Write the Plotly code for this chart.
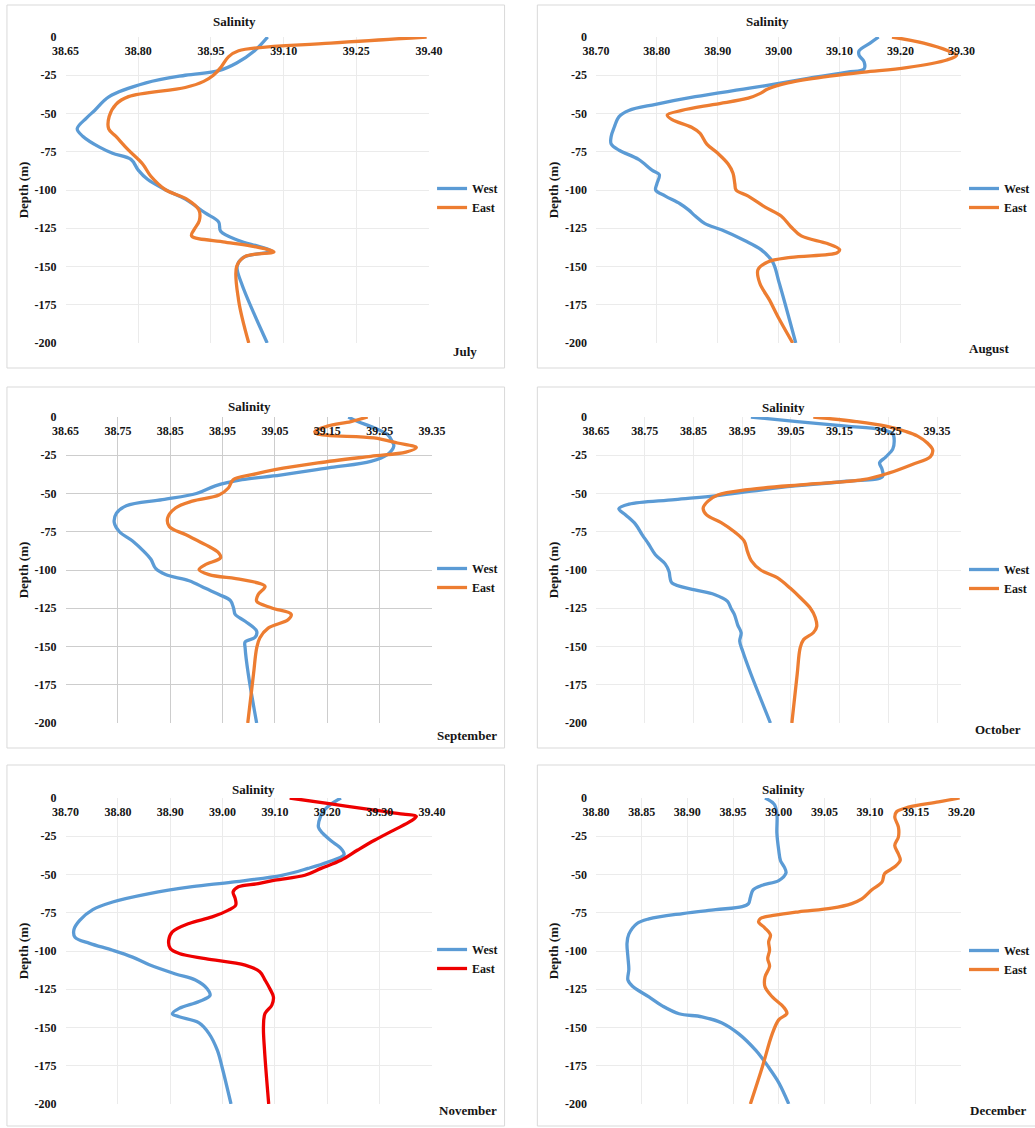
import plotly.graph_objects as go

# ---------------- salinity profiles: depth (m) vs salinity ----------------
jul_west_depth = [0, -9, -17, -22, -25, -30, -39, -48, -53, -60, -65, -72, -76, -80, -87, -93, -100,
                  -106, -115, -121, -127, -133, -137, -140, -144, -150, -161, -200]
jul_west_sal = [39.067, 39.040, 39.003, 38.966, 38.897, 38.816, 38.740, 38.710, 38.693, 38.674, 38.686,
                38.720, 38.747, 38.785, 38.800, 38.819, 38.857, 38.897, 38.938, 38.966, 38.970, 39.007,
                39.050, 39.075, 39.017, 39.004, 39.013, 39.066]
jul_east_depth = [0, -4, -9, -13, -20, -25, -29, -33, -39, -44, -52, -60, -65, -74, -83, -91, -100, -106,
                  -113, -120, -126, -130, -134, -137, -140.5, -143.5, -150, -172, -200]
jul_east_sal = [39.395, 39.197, 39.007, 38.986, 38.970, 38.955, 38.935, 38.897, 38.780, 38.754, 38.740,
                38.739, 38.754, 38.780, 38.809, 38.826, 38.857, 38.900, 38.925, 38.926, 38.915, 38.910,
                38.979, 39.040, 39.080, 39.020, 39.003, 39.007, 39.028]

aug_west_depth = [0, -4, -9, -12, -16, -21, -23, -27, -33, -39, -44, -48, -52, -59, -65, -70, -74, -80,
                  -87, -90, -96, -100, -104, -109, -113, -117, -122, -126, -133, -139, -147, -161, -200]
aug_west_sal = [39.164, 39.150, 39.132, 39.132, 39.140, 39.140, 39.113, 39.048, 38.960, 38.863, 38.798,
                38.754, 38.738, 38.730, 38.725, 38.725, 38.738, 38.770, 38.792, 38.804, 38.800, 38.798,
                38.814, 38.838, 38.852, 38.863, 38.879, 38.906, 38.944, 38.971, 38.990, 39.001, 39.028]
aug_east_depth = [0, -4, -9, -12, -15, -20, -23, -26, -30, -34, -37, -40, -44, -48, -51, -54, -59, -63,
                  -70, -76, -83, -89, -96, -100, -104, -111, -117, -124, -130, -135, -139, -141, -144,
                  -147, -152, -161, -172, -183, -200]
aug_east_sal = [39.186, 39.238, 39.278, 39.292, 39.276, 39.210, 39.140, 39.075, 39.015, 38.982, 38.969,
                38.950, 38.895, 38.841, 38.817, 38.825, 38.857, 38.871, 38.882, 38.900, 38.917, 38.925,
                38.928, 38.930, 38.950, 38.977, 39.004, 39.020, 39.037, 39.080, 39.100, 39.096, 39.020,
                38.982, 38.966, 38.969, 38.985, 38.999, 39.023]

sep_west_depth = [0, -3, -7, -11.5, -16, -19, -24.5, -29, -33, -38, -41, -45, -50, -54, -58, -63, -69,
                  -75, -81, -88, -93, -99, -103, -107, -112, -116, -120, -125, -129, -133.5, -140, -144,
                  -147, -151, -168, -200]
sep_west_sal = [39.190, 39.208, 39.239, 39.265, 39.274, 39.277, 39.265, 39.233, 39.157, 39.060, 38.987,
                38.936, 38.900, 38.835, 38.766, 38.747, 38.743, 38.753, 38.778, 38.800, 38.813, 38.822,
                38.841, 38.886, 38.917, 38.943, 38.965, 38.971, 38.974, 38.993, 39.015, 39.012, 38.993,
                38.993, 38.999, 39.015]
sep_east_depth = [0, -3, -6, -9.5, -11, -13.7, -17, -20, -23, -25.7, -30, -34.4, -37.7, -41, -46.4, -51,
                  -55, -59.5, -66, -71.5, -77, -83.4, -89, -92, -96.5, -99.7, -103, -106.3, -110.7, -116,
                  -120.5, -124.8, -129, -132.5, -138, -144.4, -151, -168, -200]
sep_east_sal = [39.227, 39.195, 39.150, 39.126, 39.130, 39.239, 39.284, 39.320, 39.300, 39.233, 39.132,
                39.050, 39.006, 38.970, 38.961, 38.943, 38.892, 38.860, 38.845, 38.848, 38.880, 38.917,
                38.943, 38.946, 38.917, 38.905, 38.924, 38.987, 39.031, 39.018, 39.015, 39.044, 39.081,
                39.075, 39.037, 39.021, 39.015, 39.009, 38.998]

oct_west_depth = [0, -3, -6, -8, -11, -16, -21, -26, -30, -34, -39, -42, -46, -51, -54, -57, -60, -64,
                  -70, -77, -83, -90, -96, -101, -105, -108.5, -113, -116, -120.5, -125, -129, -136,
                  -141, -146.5, -153, -168, -200]
oct_west_sal = [38.968, 39.063, 39.164, 39.232, 39.259, 39.262, 39.259, 39.245, 39.232, 39.237, 39.238,
                39.164, 39.030, 38.907, 38.812, 38.718, 38.697, 38.711, 38.731, 38.745, 38.758, 38.772,
                38.792, 38.800, 38.802, 38.806, 38.853, 38.893, 38.920, 38.927, 38.934, 38.941, 38.948,
                38.945, 38.951, 38.968, 39.008]
oct_east_depth = [0, -3, -6, -9.5, -12.5, -17, -21.5, -26, -31, -36.5, -41, -44, -47.5, -51, -55, -59.5,
                  -64, -69, -75, -81, -88, -94, -100, -105, -112, -118, -125, -131, -137, -141, -145.5,
                  -151, -168, -200]
oct_east_sal = [39.096, 39.184, 39.245, 39.286, 39.310, 39.330, 39.341, 39.336, 39.299, 39.252, 39.198,
                39.083, 38.961, 38.900, 38.880, 38.870, 38.877, 38.907, 38.934, 38.954, 38.961, 38.969,
                38.988, 39.022, 39.049, 39.069, 39.090, 39.100, 39.103, 39.096, 39.076, 39.069, 39.063,
                39.052]

nov_west_depth = [0, -4, -8, -12, -19, -23, -28, -33, -37, -42, -46, -50.5, -55, -58, -62.5, -68, -73,
                  -80, -86, -91, -95, -99.5, -104, -109, -115, -119, -124.5, -129, -133, -137.5, -141,
                  -143, -147, -154, -165, -176, -200]
nov_west_sal = [39.226, 39.207, 39.194, 39.187, 39.183, 39.191, 39.207, 39.226, 39.232, 39.200, 39.163,
                39.113, 39.018, 38.942, 38.860, 38.790, 38.752, 38.727, 38.716, 38.718, 38.746, 38.790,
                38.828, 38.860, 38.910, 38.948, 38.970, 38.976, 38.955, 38.917, 38.904, 38.917, 38.955,
                38.974, 38.990, 38.999, 39.016]
nov_east_depth = [0, -4, -8, -10.5, -12, -15, -21, -27.6, -34, -40.7, -46, -50.5, -53.7, -56, -58, -61.4,
                  -65.7, -70, -73.3, -77.7, -82, -87.5, -93, -98.4, -101.6, -105, -109.2, -113.5, -119,
                  -124.5, -130, -135.4, -140.8, -149.5, -164.7, -200]
nov_east_sal = [39.128, 39.210, 39.290, 39.345, 39.370, 39.360, 39.327, 39.290, 39.258, 39.226, 39.188,
                39.157, 39.100, 39.068, 39.030, 39.020, 39.024, 39.025, 39.011, 38.980, 38.936, 38.904,
                38.897, 38.900, 38.917, 38.967, 39.043, 39.071, 39.081, 39.090, 39.097, 39.094, 39.081,
                39.078, 39.080, 39.088]

dec_west_depth = [0, -4, -10, -23, -34, -41, -45, -49, -54, -57, -60, -65, -69, -71, -73, -75.5, -79, -82,
                  -89, -95, -104, -112, -119, -123, -130, -136, -141, -143, -147, -154, -165, -176, -186,
                  -200]
dec_west_sal = [38.985, 38.995, 38.998, 38.998, 39.000, 39.002, 39.006, 39.008, 39.000, 38.982, 38.972,
                38.969, 38.967, 38.960, 38.931, 38.895, 38.858, 38.845, 38.836, 38.834, 38.835, 38.836,
                38.835, 38.840, 38.858, 38.873, 38.891, 38.916, 38.938, 38.956, 38.975, 38.989, 39.000,
                39.011]
dec_east_depth = [0, -2.6, -6, -9, -12.4, -19, -25.5, -31, -36.6, -40.7, -45, -49.4, -55, -60, -66, -69,
                  -72, -74.4, -76.6, -78.8, -81, -85, -89.6, -94, -99.5, -105, -110, -117, -123.4, -130,
                  -136.4, -140.8, -145, -154, -176, -200]
dec_east_sal = [39.198, 39.175, 39.142, 39.129, 39.127, 39.131, 39.131, 39.127, 39.131, 39.133, 39.127,
                39.116, 39.113, 39.102, 39.091, 39.080, 39.058, 39.022, 38.996, 38.980, 38.978, 38.985,
                38.991, 38.989, 38.990, 38.988, 38.990, 38.985, 38.985, 38.993, 39.005, 39.009, 39.000,
                38.993, 38.982, 38.969]

# ---------------- axis ticks ----------------
depth_ticks = [0, -25, -50, -75, -100, -125, -150, -175, -200]
depth_tick_labels = ["0", "-25", "-50", "-75", "-100", "-125", "-150", "-175", "-200"]
jul_sal_ticks = [38.65, 38.80, 38.95, 39.10, 39.25, 39.40]
aug_sal_ticks = [38.70, 38.80, 38.90, 39.00, 39.10, 39.20, 39.30]
sep_sal_ticks = [38.65, 38.75, 38.85, 38.95, 39.05, 39.15, 39.25, 39.35]
oct_sal_ticks = [38.65, 38.75, 38.85, 38.95, 39.05, 39.15, 39.25, 39.35]
nov_sal_ticks = [38.70, 38.80, 38.90, 39.00, 39.10, 39.20, 39.30, 39.40]
dec_sal_ticks = [38.80, 38.85, 38.90, 38.95, 39.00, 39.05, 39.10, 39.15, 39.20]

months = ["July", "August", "September", "October", "November", "December"]
station_names = ["West", "East"]

# ---------------- styling / page geometry ----------------
W, H = 1035, 1128
BLUE = "#5b9bd5"
ORANGE = "#ed7d31"
RED = "#ee0000"
TEXT = "#151515"
SERIF = "Liberation Serif"
FAINT_GRID = "#ebebeb"
DARK_GRID = "#cdcdcd"


def px_x(v):
    return v / W


def px_y(v):
    return 1 - v / H


panels = [
    dict(west=(jul_west_depth, jul_west_sal), east=(jul_east_depth, jul_east_sal), ticks=jul_sal_ticks,
         rng=[38.65, 39.40], plot=(66, 37, 432, 343), frame=(7, 5, 508, 368), title=(236, 22),
         month=(468, 351), legend=(435, 174), grid=FAINT_GRID, east_color=ORANGE),
    dict(west=(aug_west_depth, aug_west_sal), east=(aug_east_depth, aug_east_sal), ticks=aug_sal_ticks,
         rng=[38.70, 39.30], plot=(600, 37, 968, 343), frame=(541, 5, 1060, 368), title=(773, 22),
         month=(996, 348), legend=(971, 174), grid=FAINT_GRID, east_color=ORANGE),
    dict(west=(sep_west_depth, sep_west_sal), east=(sep_east_depth, sep_east_sal), ticks=sep_sal_ticks,
         rng=[38.65, 39.35], plot=(66, 417, 435, 723), frame=(7, 387, 508, 748), title=(251, 406),
         month=(470, 735), legend=(435, 554), grid=DARK_GRID, east_color=ORANGE),
    dict(west=(oct_west_depth, oct_west_sal), east=(oct_east_depth, oct_east_sal), ticks=oct_sal_ticks,
         rng=[38.65, 39.40], plot=(600, 417, 968, 723), frame=(541, 387, 1060, 748), title=(789, 408),
         month=(1005, 729), legend=(971, 555), grid=FAINT_GRID, east_color=ORANGE),
    dict(west=(nov_west_depth, nov_west_sal), east=(nov_east_depth, nov_east_sal), ticks=nov_sal_ticks,
         rng=[38.70, 39.40], plot=(66, 798, 435, 1104), frame=(7, 765, 508, 1126), title=(255, 789),
         month=(471, 1110), legend=(435, 935), grid=FAINT_GRID, east_color=RED),
    dict(west=(dec_west_depth, dec_west_sal), east=(dec_east_depth, dec_east_sal), ticks=dec_sal_ticks,
         rng=[38.80, 39.20], plot=(600, 798, 968, 1104), frame=(541, 765, 1060, 1126), title=(789, 789),
         month=(1005, 1110), legend=(971, 936), grid=FAINT_GRID, east_color=ORANGE),
]

fig = go.Figure()
layout = dict(
    width=W, height=H, margin=dict(l=0, r=0, t=0, b=0),
    paper_bgcolor="white", plot_bgcolor="white", template="none",
    font=dict(family=SERIF, color=TEXT),
    shapes=[], annotations=[],
)

bold = dict(family=SERIF, color=TEXT, weight="bold")

for i, p in enumerate(panels):
    n = "" if i == 0 else str(i + 1)
    xref, yref = "x" + n, "y" + n
    legend_id = "legend" + n
    x0, y0, x1, y1 = p["plot"]

    for name, (depth, sal), color in [
        (station_names[0], p["west"], BLUE),
        (station_names[1], p["east"], p["east_color"]),
    ]:
        fig.add_trace(go.Scatter(
            x=sal, y=depth, mode="lines", name=name,
            line=dict(color=color, width=3.3, shape="spline", smoothing=1.0),
            xaxis=xref, yaxis=yref, legend=legend_id, showlegend=True,
        ))

    layout["xaxis" + n] = dict(
        domain=[px_x(x0), px_x(x1)], anchor=yref, side="top",
        range=p["rng"], tickvals=p["ticks"], tickformat=".2f",
        ticks="", ticklabelposition="inside", ticklabeloverflow="allow", ticklabelstandoff=7,
        tickfont=dict(size=12, **bold),
        showgrid=True, gridcolor=p["grid"], gridwidth=1, zeroline=False, showline=False,
        automargin=False,
    )
    layout["yaxis" + n] = dict(
        domain=[px_y(y1), px_y(y0)], anchor=xref,
        range=[-200, 0], tickvals=depth_ticks, ticktext=depth_tick_labels,
        ticks="", ticklabelstandoff=8,
        tickfont=dict(size=12, **bold),
        title=dict(text="Depth (m)", font=dict(size=13, **bold), standoff=3),
        showgrid=True, gridcolor=p["grid"], gridwidth=1, zeroline=False, showline=False,
        automargin=False,
    )

    lx, ly = p["legend"]
    layout[legend_id] = dict(
        x=px_x(lx), y=px_y(ly), xanchor="left", yanchor="top",
        bgcolor="rgba(0,0,0,0)", borderwidth=0, itemwidth=30,
        font=dict(size=12, **bold), tracegroupgap=0,
    )

    fx0, fy0, fx1, fy1 = p["frame"]
    layout["shapes"].append(dict(
        type="rect", xref="paper", yref="paper",
        x0=px_x(fx0), x1=px_x(fx1), y0=px_y(fy1), y1=px_y(fy0),
        line=dict(color="#d9d9d9", width=1), fillcolor="rgba(0,0,0,0)", layer="below",
    ))

    tx, ty = p["title"]
    layout["annotations"].append(dict(
        text="Salinity", x=px_x(tx), y=px_y(ty), xref="paper", yref="paper",
        xanchor="center", yanchor="middle", showarrow=False, font=dict(size=13, **bold),
    ))
    mx, my = p["month"]
    layout["annotations"].append(dict(
        text=months[i], x=px_x(mx), y=px_y(my), xref="paper", yref="paper",
        xanchor="center", yanchor="middle", showarrow=False, font=dict(size=13, **bold),
    ))

fig.update_layout(**layout)
fig.write_html("out.html")
